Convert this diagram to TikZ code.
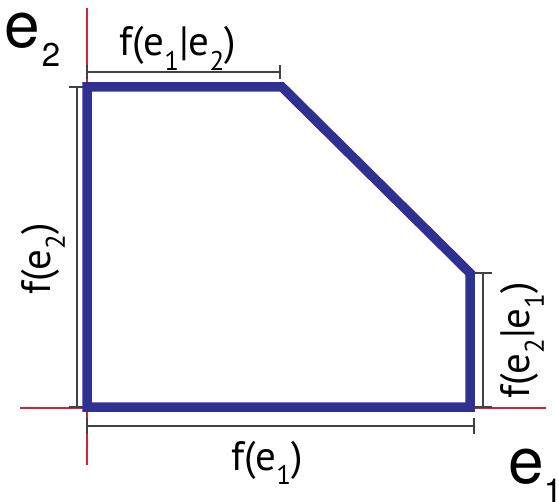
\documentclass[tikz,border=0pt]{standalone}
\usepackage{fontspec}
\newfontfamily\labfont{PT Sans}
\newfontfamily\axfont{TeX Gyre Heros}
\definecolor{polyblue}{HTML}{2E3192}
\definecolor{axred}{HTML}{D2213A}
\definecolor{dimgray}{HTML}{414042}
\newcommand\lsub[1]{\raisebox{-0.36em}{\fontsize{27}{27}\selectfont #1}}
\begin{document}
\begin{tikzpicture}[x=1pt,y=-1pt,
  poly/.style={draw=polyblue,line width=9.5pt,line join=miter},
  axis/.style={draw=axred,line width=1.6pt},
  dimline/.style={draw=dimgray,line width=2pt},
  dimtick/.style={draw=dimgray,line width=2.6pt},
  lab/.style={inner sep=0pt,font=\labfont\fontsize{41}{41}\selectfont},
  axlab/.style={inner sep=0pt,font=\axfont\fontsize{64}{64}\selectfont}]
\useasboundingbox (0,0) rectangle (559,502);
% polygon corners
\coordinate (A) at (87,407);
\coordinate (B) at (87,87);
\coordinate (C) at (282,87);
\coordinate (D) at (470,273);
\coordinate (E) at (470,407);
% axes (red)
\coordinate (ytop) at (87,8);
\coordinate (ybot) at (87,84);
\coordinate (ylow1) at (87,411);
\coordinate (ylow2) at (87,465);
\coordinate (xl1) at (20,408);
\coordinate (xl2) at (84,408);
\coordinate (xr1) at (475,408);
\coordinate (xr2) at (546,408);
\path[axis] (ytop) -- (ybot);
\path[axis] (ylow1) -- (ylow2);
\path[axis] (xl1) -- (xl2);
\path[axis] (xr1) -- (xr2);
% dimension lines
\coordinate (t1) at (87,72);  \coordinate (t2) at (280,72);
\coordinate (l1) at (77,87);  \coordinate (l2) at (77,407);
\coordinate (b1) at (87,426); \coordinate (b2) at (474,426);
\coordinate (r1) at (483,273); \coordinate (r2) at (483,407);
\path[dimline] (t1) -- (t2);
\path[dimtick] ([yshift=-7pt]t1) -- ([yshift=7pt]t1);
\path[dimtick] ([yshift=-7pt]t2) -- ([yshift=7pt]t2);
\path[dimline] (l1) -- (l2);
\path[dimtick] ([xshift=-8pt]l1) -- ([xshift=9pt]l1);
\path[dimtick] ([xshift=-8pt]l2) -- ([xshift=9pt]l2);
\path[dimline] (b1) -- (b2);
\path[dimtick] ([yshift=-8pt]b1) -- ([yshift=8pt]b1);
\path[dimtick] ([yshift=-8pt]b2) -- ([yshift=8pt]b2);
\path[dimline] (r1) -- (r2);
\path[dimtick] ([xshift=-8pt]r1) -- ([xshift=9pt]r1);
\path[dimtick] ([xshift=-8pt]r2) -- ([xshift=9pt]r2);
% polygon
\path[poly] (A) -- (B) -- (C) -- (D) -- (E) -- cycle;
% labels
\node[lab,anchor=base west] (ltop) at (119,56) {f(e\lsub{1}|e\lsub{2})};
\node[lab,anchor=base west] (lbot) at (231,470) {f(e\lsub{1})};
\node[lab,anchor=base west,rotate=90] (lleft) at (50,295) {f(e\lsub{2})};
\node[lab,anchor=base west,rotate=90] (lright) at (529,399) {f(e\lsub{2}|e\lsub{1})};
\node[axlab,anchor=base west] (e2) at (4,48) {e\hspace{2pt}\raisebox{-19pt}{\fontsize{33}{33}\selectfont 2}};
\node[axlab,anchor=base west] (e1) at (508,483) {e\hspace{0pt}\raisebox{-19pt}{\fontsize{33}{33}\selectfont 1}};
\end{tikzpicture}
\end{document}
